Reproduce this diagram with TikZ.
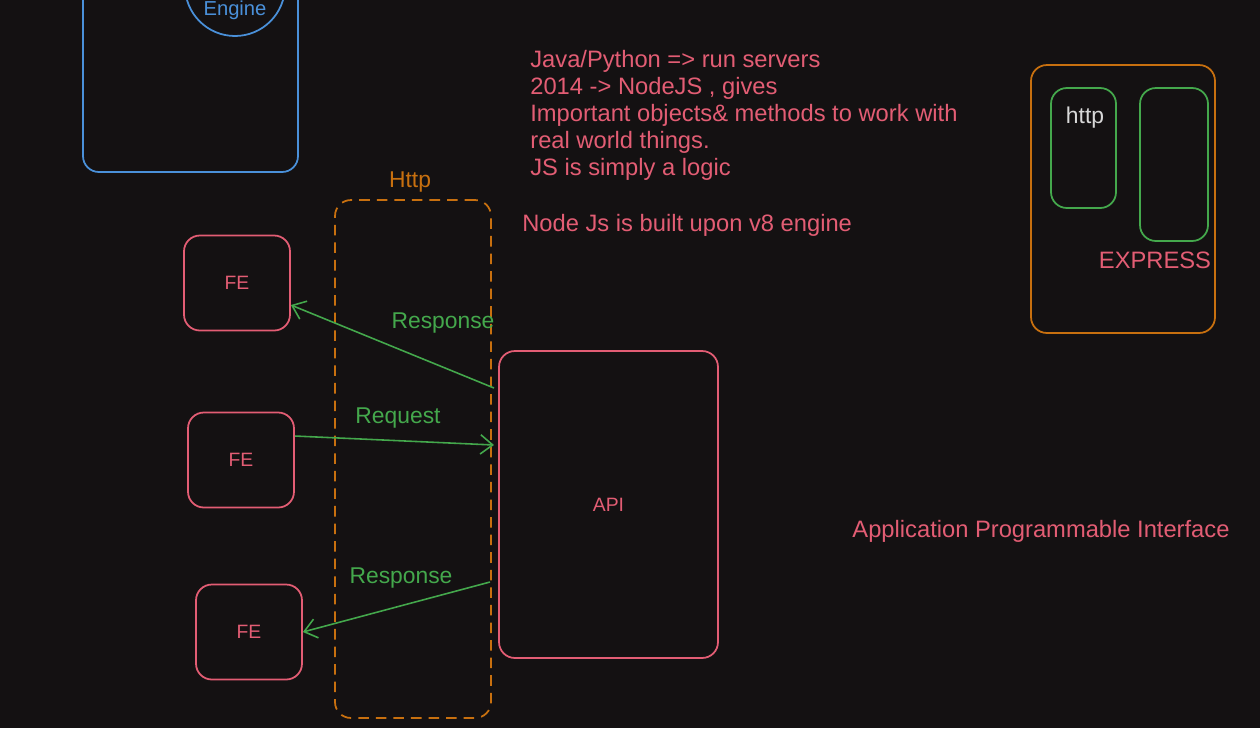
\documentclass[tikz,border=0pt]{standalone}
\usepackage{fontspec}
\setmainfont{Liberation Sans}
\usetikzlibrary{arrows.meta}

\definecolor{bgdark}{HTML}{141112}
\definecolor{pinkc}{HTML}{E35D74}
\definecolor{greenc}{HTML}{44A84C}
\definecolor{bluec}{HTML}{4A90D9}
\definecolor{orangec}{HTML}{C8700F}
\definecolor{httpc}{HTML}{D8D8D8}

\begin{document}
\begin{tikzpicture}[x=0.02cm, y=-0.02cm,
    box/.style={draw, rounded corners=9pt, line width=1pt, inner sep=0pt},
    fe/.style={box, draw=pinkc, text=pinkc, font=\fontsize{11}{13}\selectfont, minimum width=2.12cm, minimum height=1.9cm},
    msg/.style={draw=greenc, line width=0.9pt, -{Straight Barb[length=7pt,width=11pt]}},
    txt/.style={text=pinkc, font=\fontsize{13.5}{15.4}\selectfont, inner sep=0pt},
    gtxt/.style={text=greenc, font=\fontsize{13}{15.4}\selectfont, inner sep=0pt}]

    \useasboundingbox (0,0) rectangle (1260,728);
    \clip (0,0) rectangle (1260,728);
    \fill[bgdark] (0,0) rectangle (1260,728);

    % v8 engine box (cut by the top edge)
    \node[box, draw=bluec, minimum width=4.3cm, minimum height=4.24cm] (v8box) at (190.5,66) {};
    \node[circle, draw=bluec, line width=1pt, minimum size=2cm] (v8) at (235,-14) {};
    \node[text=bluec, font=\fontsize{11.5}{13}\selectfont, inner sep=0pt] (enginelbl) at (235,10) {Engine};

    % notes
    \node[txt, anchor=north west, align=left] (notes) at (530,50) {Java/Python => run servers\\
        2014 -> NodeJS , gives\\
        Important objects\& methods to work with\\
        real world things.\\
        JS is simply a logic};
    \node[txt, anchor=west] (builtupon) at (522,225) {Node Js is built upon v8 engine};

    % express
    \node[box, draw=orangec, minimum width=3.68cm, minimum height=5.36cm] (express) at (1123,199) {};
    \node[box, draw=greenc, minimum width=1.3cm, minimum height=2.4cm] (httpmod) at (1083.5,148) {};
    \node[box, draw=greenc, minimum width=1.36cm, minimum height=3.06cm] (othermod) at (1174,164.5) {};
    \node[text=httpc, font=\fontsize{13}{15}\selectfont] (httplbl) at (1085,118) {http};
    \node[txt] (expresslbl) at (1155,260) {EXPRESS};

    % http channel
    \node[box, draw=orangec, dashed, dash pattern=on 6pt off 4pt, minimum width=3.12cm, minimum height=10.36cm] (channel) at (413,459) {};
    \node[text=orangec, font=\fontsize{13}{15}\selectfont] (channellbl) at (410,182) {Http};

    % clients and server
    \node[fe] (fe1) at (237,283) {FE};
    \node[fe] (fe2) at (241,460) {FE};
    \node[fe] (fe3) at (249,632) {FE};
    \node[fe, minimum width=4.38cm, minimum height=6.14cm] (api) at (608.5,504.5) {API};
    \node[txt] (apilong) at (1041,531) {Application Programmable Interface};

    % request / response
    \coordinate (resp1) at (494,388);
    \coordinate (req) at (494,445);
    \coordinate (resp2) at (490,582);
    \draw[msg] (resp1) -- (fe1);
    \draw[msg] (fe2.24) -- (req);
    \draw[msg] (resp2) -- (fe3.east);
    \node[gtxt] (resp1lbl) at (443,323) {Response};
    \node[gtxt] (reqlbl) at (398,418) {Request};
    \node[gtxt] (resp2lbl) at (401,578) {Response};

\end{tikzpicture}
\end{document}
